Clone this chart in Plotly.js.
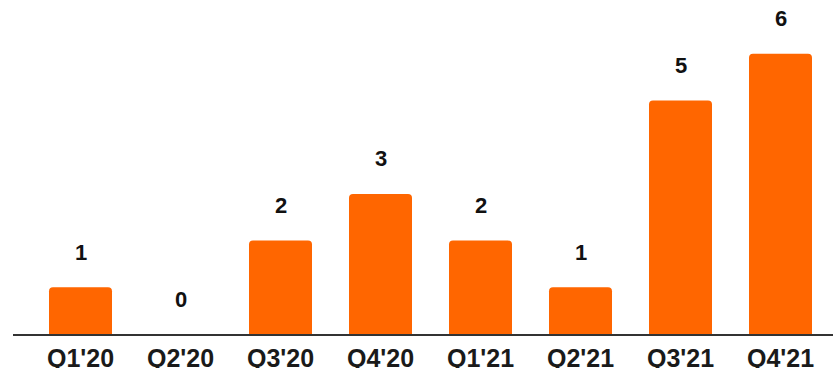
<!DOCTYPE html>
<html>
<head>
<meta charset="utf-8">
<script src="https://cdn.plot.ly/plotly-3.0.1.min.js"></script>
<style>html,body{margin:0;padding:0;background:#fff;}#chart{width:833px;height:368px;}</style>
</head>
<body>
<div id="chart"></div>
<script>
const categories = ["Q1'20", "Q2'20", "Q3'20", "Q4'20", "Q1'21", "Q2'21", "Q3'21", "Q4'21"];
const values = [1, 0, 2, 3, 2, 1, 5, 6];

const annotations = categories.map((c, i) => ({
  x: c, y: values[i], xref: 'x', yref: 'y',
  text: '<b>' + values[i] + '</b>', showarrow: false,
  yanchor: 'middle', yshift: 35,
  font: {family: 'Liberation Sans, Arial, sans-serif', size: 22, color: '#111'}
}));

const trace = {
  type: 'bar', x: categories, y: values,
  marker: {color: '#FF6600', cornerradius: 4},
  width: 0.63, hoverinfo: 'none'
};

const layout = {
  width: 833, height: 368,
  margin: {l: 13, r: 0, t: 0, b: 34, pad: 0},
  paper_bgcolor: '#fff', plot_bgcolor: '#fff',
  showlegend: false,
  xaxis: {
    type: 'category', range: [-0.675, 7.525],
    showline: true, linecolor: '#333', linewidth: 1.5,
    showgrid: false, zeroline: false, ticks: '',
    ticklabelstandoff: 1,
    tickfont: {family: 'Liberation Sans, Arial, sans-serif', size: 25, color: '#1a1a1a', weight: 'bold'}
  },
  yaxis: {
    range: [0, 7.152], visible: false, showgrid: false, zeroline: false, fixedrange: true
  },
  annotations: annotations
};

Plotly.newPlot('chart', [trace], layout, {displayModeBar: false, staticPlot: true});
</script>
</body>
</html>
